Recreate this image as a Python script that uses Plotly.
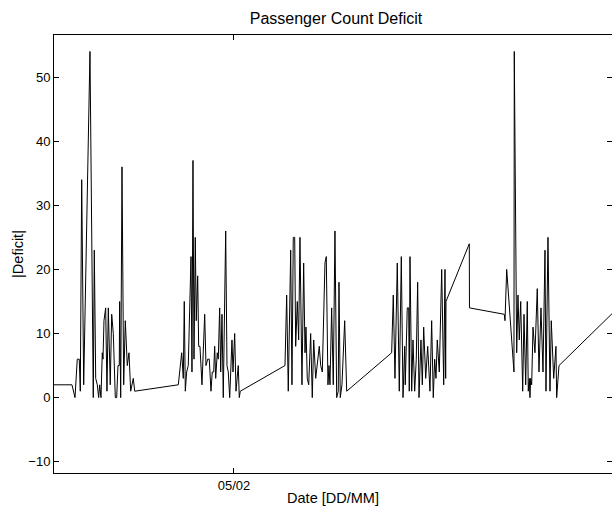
import pandas as pd
import plotly.graph_objects as go

# time in hours since 03/02 00:00
hours = [
    7.63, 11.66, 12.34, 12.85, 13.30, 13.53, 13.84, 14.29, 15.70, 16.44, 16.67, 16.98,
    17.34, 17.65, 17.88, 18.17, 18.46, 18.62, 18.84, 19.22, 19.51, 19.81, 20.25, 20.57,
    20.93, 21.38, 21.69, 21.98, 22.27, 22.36, 22.59, 22.88, 23.26, 23.62, 24.07, 24.45,
    24.83, 25.41, 25.73,
    35.51, 36.27, 36.63, 36.85, 37.08, 37.39, 37.75, 38.36, 38.58, 38.80, 39.03, 39.32,
    39.54, 39.86, 40.08, 40.37, 40.82, 41.43, 41.72, 42.10, 42.46, 42.84, 43.13, 43.45,
    43.67, 43.90, 44.25, 44.48, 44.79, 45.02, 45.31, 45.60, 46.14, 46.43, 46.72, 47.04,
    47.33, 47.55, 47.78, 48.16, 48.45, 48.96, 49.19, 49.41,
    59.44, 59.82, 60.18, 60.72, 61.01, 61.30, 61.62, 61.84, 62.20, 62.51, 62.80, 63.25,
    63.63, 63.93, 64.15, 64.44, 64.76, 65.20, 65.56, 65.88, 66.33, 66.77, 67.13, 67.45,
    67.81, 68.41, 68.70, 69.08, 69.31, 69.53, 69.91, 70.27, 70.65, 71.04, 71.39, 71.55,
    71.84, 72.22, 72.83, 73.28,
    83.37, 83.73, 84.11, 84.63, 85.08, 85.53, 85.91, 86.29, 86.42, 86.87, 87.19, 87.32,
    87.48, 87.86, 88.15, 88.53, 88.89, 89.20, 89.50, 89.94, 90.24, 90.55, 91.00, 91.45,
    91.96, 92.34, 92.70, 93.02, 93.31, 93.60, 94.05, 94.59, 95.04, 95.33, 95.48, 95.55,
    100.78, 100.82, 108.63, 108.79, 109.17,
    110.80, 110.87, 111.41, 111.70, 111.99, 112.31, 112.76, 113.05, 113.43, 113.79, 114.01,
    114.24, 114.39, 114.55, 114.77, 115.07, 115.51, 116.03, 116.41, 116.86, 117.31, 117.76,
    117.98, 118.43, 118.88, 119.17, 119.71, 120.22, 120.38, 120.90, 134.13,
]

deficit = [
    2, 2, 0, 6, 6, 1, 34, 2, 54, 0, 23, 3,
    2, 0, 2, 0, 7, 6, 12, 14, 1, 14, 2, 13,
    10, 0, 0, 5, 5, 15, 0, 36, 2, 12, 5, 7,
    1, 3, 1,
    2, 7, 3, 15, 1, 4, 5, 22, 4, 37, 6, 25,
    12, 19, 8, 8, 2, 13, 5, 6, 6, 1, 4, 4,
    8, 3, 7, 6, 14, 4, 13, 0, 26, 5, 4, 0,
    4, 9, 4, 10, 1, 5, 0, 1,
    5, 16, 1, 23, 2, 25, 25, 8, 15, 9, 25, 2,
    21, 7, 11, 3, 2, 10, 0, 9, 3, 6, 8, 5,
    4, 21, 22, 2, 5, 2, 14, 2, 26, 0, 1, 18,
    0, 2, 12, 1,
    7, 16, 3, 21, 1, 22, 0, 8, 2, 14, 14, 1,
    22, 1, 9, 1, 6, 18, 0, 9, 2, 11, 3, 8,
    1, 12, 0, 6, 3, 9, 4, 20, 2, 20, 3, 15,
    24, 14, 13, 12, 20,
    4, 54, 7, 16, 9, 15, 1, 13, 2, 15, 1,
    3, 0, 3, 2, 11, 7, 17, 4, 14, 4, 23,
    1, 25, 1, 12, 3, 8, 0, 5, 14,
]

origin = pd.Timestamp("2013-02-03")
times = origin + pd.to_timedelta(hours, unit="h")

x_range_hours = [7.63, 132.79]
y_range = [-11.76, 56.57]
y_ticks = [-10, 0, 10, 20, 30, 40, 50]
x_tick_dates = [pd.Timestamp("2013-02-05")]
x_tick_text = ["05/02"]

FONT = "Liberation Sans, Arial, sans-serif"

fig = go.Figure()
fig.add_trace(go.Scatter(x=times, y=deficit, mode="lines",
                         line=dict(color="black", width=1), showlegend=False))
fig.add_trace(go.Scatter(x=[times[0]], y=[None], yaxis="y2", mode="lines",
                         showlegend=False, hoverinfo="skip"))

xr = [origin + pd.to_timedelta(h, unit="h") for h in x_range_hours]

fig.update_layout(
    width=612, height=506,
    margin=dict(l=54, r=0, t=35, b=33),
    paper_bgcolor="white", plot_bgcolor="white",
    font=dict(family=FONT, size=13, color="black"),
    title=dict(text="Passenger Count Deficit", x=336/612, xanchor="center",
               y=1-18/506, yanchor="middle", font=dict(size=16, family=FONT)),
    xaxis=dict(type="date", range=xr, tickvals=x_tick_dates, ticktext=x_tick_text,
               ticks="inside", ticklen=5, tickcolor="black", tickwidth=1,
               showline=True, linecolor="black", linewidth=1, mirror="ticks",
               showgrid=False, zeroline=False,
               title=dict(text="Date [DD/MM]", font=dict(size=14.5), standoff=2)),
    yaxis=dict(range=y_range, tickvals=y_ticks, ticks="inside", ticklen=5,
               tickcolor="black", tickwidth=1, showline=True, linecolor="black",
               linewidth=1, mirror=False, showgrid=False, zeroline=False,
               title=dict(text="|Deficit|", font=dict(size=14.5), standoff=1)),
    yaxis2=dict(range=y_range, tickvals=y_ticks, overlaying="y", side="right",
                ticks="inside", ticklen=5, tickcolor="black", tickwidth=1,
                showticklabels=False, showline=False, showgrid=False, zeroline=False),
)

fig.write_html("out.html")
